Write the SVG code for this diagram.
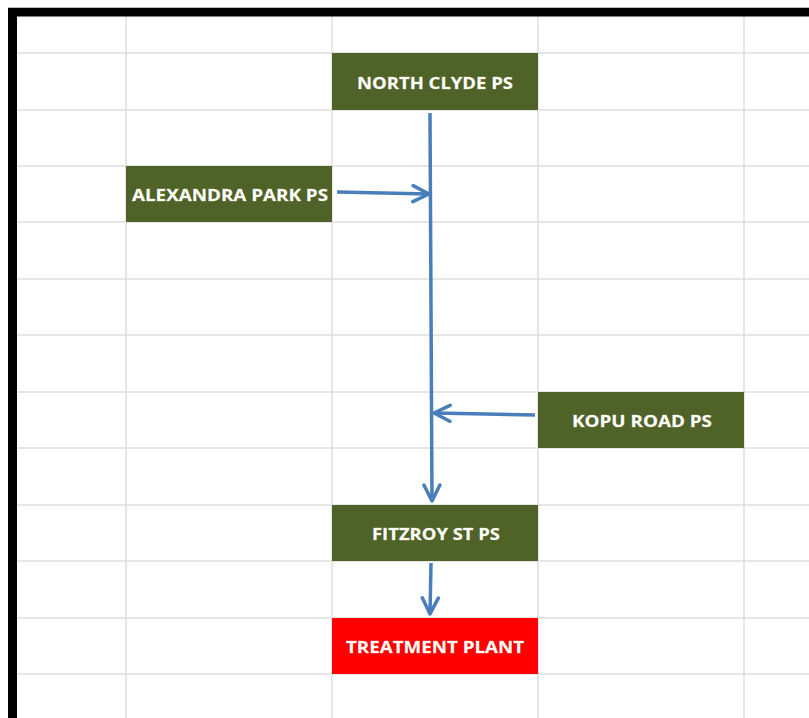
<svg xmlns="http://www.w3.org/2000/svg" width="809" height="718" viewBox="0 0 809 718">
<style>
.grid line{stroke:#dedede;stroke-width:1.5}
.node rect{stroke:none}
.green{fill:#4f6228}
.red{fill:#ff0000}
.lbl{font-family:"Open Sans",Lato,sans-serif;font-weight:bold;font-size:16.5px;fill:#ffffff;text-anchor:middle;dominant-baseline:central;stroke:#fffbe0;stroke-width:0.3;stroke-opacity:0.6}
.conn{stroke:#4a7ebb;stroke-width:3.5;fill:none}
</style>
<defs>
<marker id="ah" markerUnits="userSpaceOnUse" viewBox="0 0 20 20" refX="18" refY="10" markerWidth="20" markerHeight="20" orient="auto">
<path d="M2,2 L18,10 L2,18" fill="none" stroke="#4a7ebb" stroke-width="3.5" stroke-linecap="round" stroke-linejoin="round"/>
</marker>
</defs>
<rect width="809" height="718" fill="#ffffff"/>
<g class="grid">
<line x1="126" y1="16" x2="126" y2="718"/>
<line x1="332" y1="16" x2="332" y2="718"/>
<line x1="538" y1="16" x2="538" y2="718"/>
<line x1="744" y1="16" x2="744" y2="718"/>
<line x1="17" y1="53" x2="809" y2="53"/>
<line x1="17" y1="110" x2="809" y2="110"/>
<line x1="17" y1="166" x2="809" y2="166"/>
<line x1="17" y1="222" x2="809" y2="222"/>
<line x1="17" y1="279" x2="809" y2="279"/>
<line x1="17" y1="335" x2="809" y2="335"/>
<line x1="17" y1="392" x2="809" y2="392"/>
<line x1="17" y1="448" x2="809" y2="448"/>
<line x1="17" y1="505" x2="809" y2="505"/>
<line x1="17" y1="561" x2="809" y2="561"/>
<line x1="17" y1="618" x2="809" y2="618"/>
<line x1="17" y1="674" x2="809" y2="674"/>
</g>
<rect x="8" y="7" width="801" height="1" fill="#bbbbbb"/>
<rect x="8" y="8" width="801" height="8.5" fill="#000000"/>
<rect x="8" y="8" width="9" height="710" fill="#000000"/>
<g id="north-clyde" class="node"><rect class="green" x="332" y="53" width="206" height="57"/><text class="lbl" x="435" y="82" textLength="156" lengthAdjust="spacingAndGlyphs">NORTH CLYDE PS</text></g>
<g id="alexandra-park" class="node"><rect class="green" x="126" y="166" width="206" height="56"/><text class="lbl" x="230" y="194" textLength="196" lengthAdjust="spacingAndGlyphs">ALEXANDRA PARK PS</text></g>
<g id="kopu-road" class="node"><rect class="green" x="538" y="392" width="206" height="56"/><text class="lbl" x="642" y="420" textLength="140" lengthAdjust="spacingAndGlyphs">KOPU ROAD PS</text></g>
<g id="fitzroy-st" class="node"><rect class="green" x="332" y="505" width="206" height="56"/><text class="lbl" x="436" y="533" textLength="128" lengthAdjust="spacingAndGlyphs">FITZROY ST PS</text></g>
<g id="treatment-plant" class="node"><rect class="red" x="332" y="618" width="206" height="56"/><text class="lbl" x="435" y="646" textLength="178" lengthAdjust="spacingAndGlyphs">TREATMENT PLANT</text></g>
<g id="connectors">
<line class="conn" x1="430" y1="113" x2="432" y2="501" marker-end="url(#ah)"/>
<line class="conn" x1="337" y1="192" x2="429" y2="194" marker-end="url(#ah)"/>
<line class="conn" x1="535" y1="415" x2="434" y2="413" marker-end="url(#ah)"/>
<line class="conn" x1="431" y1="563" x2="430" y2="614" marker-end="url(#ah)"/>
</g>
</svg>
